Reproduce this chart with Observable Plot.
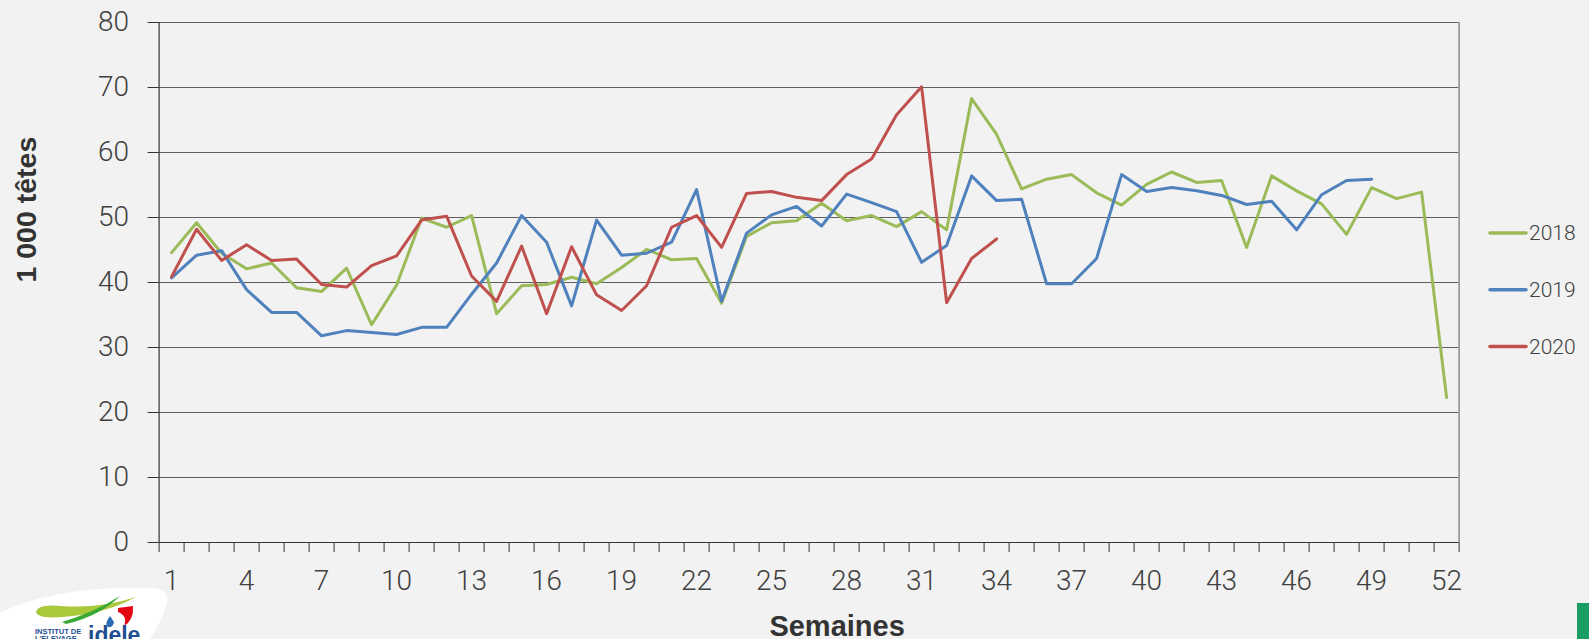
<!DOCTYPE html>
<html>
<head>
<meta charset="utf-8">
<script src="https://cdn.jsdelivr.net/npm/d3@7"></script>
<script src="https://cdn.jsdelivr.net/npm/@observablehq/plot@0.6"></script>
<style>
  html, body { margin: 0; padding: 0; background: #f2f2f2; }
  #wrap { position: relative; width: 1589px; height: 639px; overflow: hidden; background: #f2f2f2; }
  #chart svg { display: block; }
  #legend { position: absolute; left: 1480px; top: 215px; }
  #logo { position: absolute; left: 0; top: 580px; }
  #corner { position: absolute; left: 1577px; top: 603px; width: 12px; height: 36px; background: #199d63; }
</style>
</head>
<body>
<div id="wrap">
  <div id="chart"></div>
  <div id="legend"></div>
  <svg id="logo" width="175" height="59" viewBox="0 580 175 59">
    <path d="M0,613 Q55,586 150,588 Q172,589 166,606 Q160,624 150,639 L0,639 Z" fill="#ffffff"/>
    <path d="M36,612 Q38,604 60,606 Q100,609 136,597 Q105,614 62,617 Q38,619 36,612 Z" fill="#a9c93b"/>
    <path d="M62,622 Q95,612 120,596 Q100,616 66,624 Z" fill="#3aa935"/>
    <path d="M118,608 L133,606 Q134,620 124,626 Q128,616 118,612 Z" fill="#e30613"/>
    <path d="M110,616 Q104,624 108,627 Q113,628 114,622 Z" fill="#2a6db5"/>
    <text x="35" y="634" font-family="Liberation Sans, Arial, sans-serif" font-weight="bold" font-size="7.5" fill="#1d4f91">INSTITUT DE</text>
    <text x="35" y="641" font-family="Liberation Sans, Arial, sans-serif" font-weight="bold" font-size="7.5" fill="#1d4f91">L'ÉLEVAGE</text>
    <text x="88" y="643" font-family="Liberation Sans, Arial, sans-serif" font-weight="bold" font-size="23" fill="#1d4f91">idele</text>
  </svg>
  <div id="corner"></div>
</div>
<script>
// ---- data ----
const years = ["2018", "2019", "2020"];
const colors = ["#9bbb59", "#4f81bd", "#c0504d"];

const v2018 = [44.6, 49.2, 44.5, 42.1, 43.0, 39.2, 38.6, 42.2, 33.5, 39.6,
  49.9, 48.5, 50.3, 35.2, 39.5, 39.7, 40.8, 39.8, 42.3, 45.1,
  43.5, 43.7, 36.8, 47.1, 49.2, 49.5, 52.2, 49.5, 50.3, 48.6,
  50.9, 48.1, 68.3, 62.8, 54.4, 55.9, 56.6, 53.8, 51.9, 55.1,
  57.0, 55.4, 55.7, 45.4, 56.4, 54.1, 52.1, 47.4, 54.6, 52.9,
  53.9, 22.3];
const v2019 = [40.7, 44.2, 44.9, 38.9, 35.4, 35.4, 31.8, 32.6, 32.3, 32.0,
  33.1, 33.1, 38.2, 43.0, 50.3, 46.2, 36.4, 49.6, 44.2, 44.5,
  46.2, 54.3, 37.1, 47.6, 50.4, 51.7, 48.7, 53.6, 52.3, 50.9,
  43.1, 45.7, 56.4, 52.6, 52.8, 39.8, 39.8, 43.7, 56.6, 54.0,
  54.6, 54.1, 53.4, 52.0, 52.5, 48.1, 53.5, 55.7, 55.9];
const v2020 = [40.9, 48.2, 43.4, 45.8, 43.4, 43.6, 39.7, 39.3, 42.6, 44.1,
  49.6, 50.2, 41.0, 37.1, 45.6, 35.2, 45.5, 38.1, 35.7, 39.5,
  48.5, 50.3, 45.4, 53.7, 54.0, 53.1, 52.6, 56.6, 59.0, 65.8,
  70.1, 36.9, 43.7, 46.7];

const yTicks = [0, 10, 20, 30, 40, 50, 60, 70, 80];
const xTickLabels = [1, 4, 7, 10, 13, 16, 19, 22, 25, 28, 31, 34, 37, 40, 43, 46, 49, 52];
const nWeeks = 52;
const yTitle = "1 000 têtes";
const xTitle = "Semaines";

// ---- tidy table ----
const series = [v2018, v2019, v2020];
const data = [];
series.forEach((vals, i) => vals.forEach((v, j) => data.push({year: years[i], week: j + 1, value: v})));
const slotEdges = d3.range(0, nWeeks + 1).map(k => k + 0.5);
const grid = yTicks.filter(t => t > 0);

const W = 1589, H = 639;
const chart = Plot.plot({
  width: W,
  height: H,
  marginLeft: 158.6,
  marginRight: 130.4,
  marginTop: 22,
  marginBottom: 97,
  style: {background: "#f2f2f2", fontFamily: "Roboto, 'Open Sans', sans-serif", fontWeight: 300, color: "#404040", overflow: "visible"},
  x: {domain: [0.5, nWeeks + 0.5], axis: null, label: null},
  y: {domain: [0, 80], axis: null, label: null},
  color: {domain: years, range: colors},
  marks: [
    Plot.ruleY(grid, {stroke: "#5e5e5e", strokeWidth: 1}),
    Plot.ruleX([nWeeks + 0.5], {stroke: "#8a8a8a", strokeWidth: 1.5}),
    Plot.axisY(yTicks, {label: null, tickSize: 11, tickPadding: 19, fontSize: 28, stroke: "#333", fill: "#404040"}),
    Plot.axisX(slotEdges, {label: null, tickSize: 10, tickFormat: () => "", stroke: "#333"}),
    Plot.axisX(xTickLabels, {label: null, tickSize: 0, tickPadding: 28, fontSize: 28, fill: "#404040"}),
    Plot.ruleX([0.5], {stroke: "#333", strokeWidth: 1.2}),
    Plot.ruleY([0], {stroke: "#333", strokeWidth: 1.2}),
    Plot.line(data, {x: "week", y: "value", stroke: "year", z: "year", strokeWidth: 3}),
    Plot.text([yTitle], {frameAnchor: "left", rotate: -90, dx: -132, fontSize: 28.5, fontWeight: "bold", fontFamily: "'Liberation Sans', Arial, sans-serif", fill: "#333"}),
    Plot.text([xTitle], {frameAnchor: "bottom", lineAnchor: "bottom", dx: 28, dy: 93, fontSize: 29, fontWeight: "bold", fontFamily: "'Liberation Sans', Arial, sans-serif", fill: "#333"})
  ]
});
document.getElementById("chart").appendChild(chart);

// ---- legend ----
const lg = d3.select("#legend").append("svg").attr("width", 109).attr("height", 150);
const rows = lg.selectAll("g").data(years).join("g")
  .attr("transform", (d, i) => `translate(0, ${18 + i * 56.7})`);
rows.append("line").attr("x1", 10).attr("x2", 46).attr("y1", 0).attr("y2", 0)
  .attr("stroke", (d, i) => colors[i]).attr("stroke-width", 3.5).attr("stroke-linecap", "round");
rows.append("text").attr("x", 49).attr("y", 0).attr("dy", "0.35em")
  .attr("font-family", "Roboto, sans-serif").attr("font-weight", 300).attr("font-size", 21)
  .attr("fill", "#404040").text(d => d);
</script>
</body>
</html>
